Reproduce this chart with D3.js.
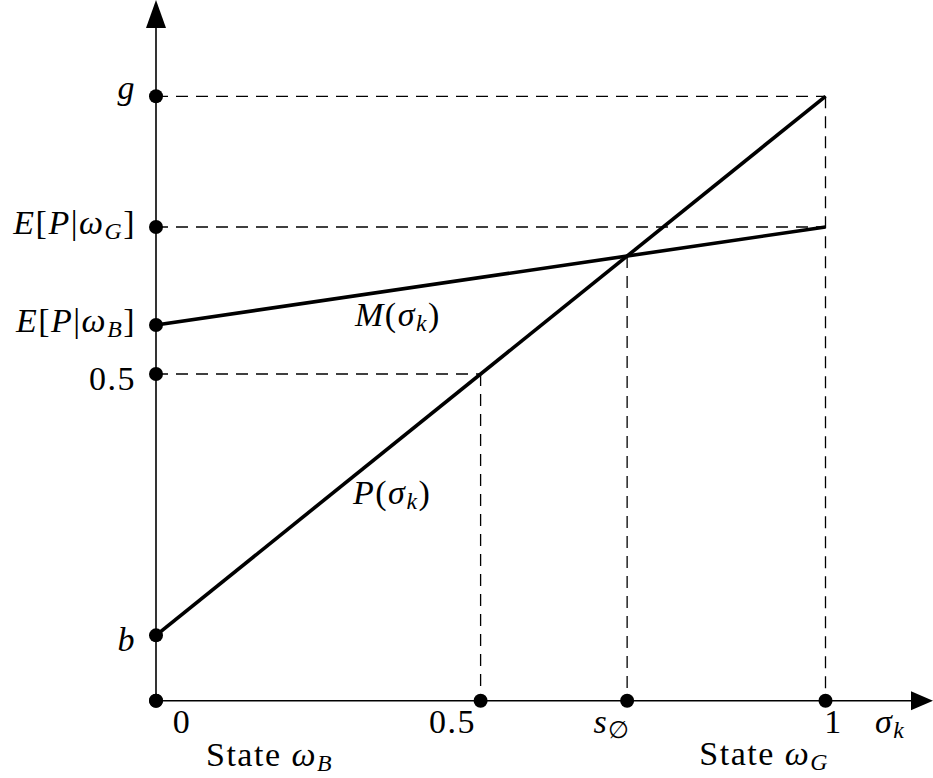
<!DOCTYPE html>
<html>
<head>
<meta charset="utf-8">
<script src="https://cdn.jsdelivr.net/npm/d3@7"></script>
<style>
  body { margin: 0; background: #fff; }
  svg { display: block; }
  text { font-family: "Liberation Serif", "Times New Roman", serif; fill: #000; letter-spacing: 1.5px; }
</style>
</head>
<body>
<svg id="chart" width="933" height="778"></svg>
<script>
// Values on the vertical axis
const bValue = 0.1;      // P at sigma = 0
const gValue = 0.925;    // P at sigma = 1
const eBad = 0.575;      // E[P|ωB], M at sigma = 0
const eGood = 0.725;     // E[P|ωG], M at sigma = 1
const halfValue = 0.5;

// Endpoints of the two lines over sigma in [0, 1]
const sigmaEnds = [0, 1];
const pValues = [bValue, gValue];
const mValues = [eBad, eGood];

// Derived points: where P reaches 0.5 and where P meets M
const mAt = s => mValues[0] + (mValues[1] - mValues[0]) * s;
const sigmaHalf = (halfValue - pValues[0]) / (pValues[1] - pValues[0]);
const sigmaCross = (mValues[0] - pValues[0]) /
  ((pValues[1] - pValues[0]) - (mValues[1] - mValues[0]));

// Tick labels, as pieces: [text, italic, "sub" for subscripts]
const yTickValues = [0, bValue, halfValue, eBad, eGood, gValue];
const yTickLabels = [
  null,
  [["b", true]],
  [["0.5", false]],
  [["E", true], ["[", false], ["P", true], ["|", false], ["ω", true], ["B", true, "sub"], ["]", false]],
  [["E", true], ["[", false], ["P", true], ["|", false], ["ω", true], ["G", true, "sub"], ["]", false]],
  [["g", true]]
];
const xTickValues = [0, sigmaHalf, sigmaCross, 1];
const xTickLabels = [
  [["0", false]],
  [["0.5", false]],
  [["s", true], ["∅", false, "sub"]],
  [["1", false]]
];

const FONT = 34;

const svg = d3.select("#chart");
svg.append("rect").attr("width", 933).attr("height", 778).attr("fill", "#fff");

const x = d3.scaleLinear().domain([0, 1]).range([156, 825.5]);
const y = d3.scaleLinear().domain([0, 1]).range([700.7, 47.3]);

const x0 = x(0), y0 = y(0);

// Writes a math-style label made of pieces; subscripts drop and shrink
function mathText(g, pieces, size) {
  const t = g.append("text").attr("font-size", size);
  const drop = size * 0.16;
  let shifted = false;
  pieces.forEach(([str, italic, kind]) => {
    const sp = t.append("tspan").text(str)
      .attr("font-style", italic ? "italic" : "normal");
    if (kind === "sub") {
      sp.attr("font-size", size * 0.7).attr("dy", drop);
      shifted = true;
    } else if (shifted) {
      sp.attr("dy", -drop);
      shifted = false;
    }
  });
  return t;
}

// Dashed guide lines
const dash = svg.append("g")
  .attr("stroke", "#000").attr("stroke-width", 1.3)
  .attr("stroke-dasharray", "12,8").attr("fill", "none");
const guides = [
  [[0, gValue], [1, gValue]],
  [[1, gValue], [1, 0]],
  [[0, eGood], [1, eGood]],
  [[0, halfValue], [sigmaHalf, halfValue]],
  [[sigmaHalf, halfValue], [sigmaHalf, 0]],
  [[sigmaCross, mAt(sigmaCross)], [sigmaCross, 0]]
];
guides.forEach(([a, b]) => {
  dash.append("line")
    .attr("x1", x(a[0])).attr("y1", y(a[1]))
    .attr("x2", x(b[0])).attr("y2", y(b[1]));
});

// Axes with arrow heads
const axes = svg.append("g").attr("stroke", "#000").attr("stroke-width", 1.6);
axes.append("line").attr("x1", x0).attr("y1", y0).attr("x2", x0).attr("y2", 20);
axes.append("line").attr("x1", x0).attr("y1", y0).attr("x2", 915).attr("y2", y0);
svg.append("path")
  .attr("d", `M${x0},0 L${x0 - 10},28 L${x0 + 10},28 Z`).attr("fill", "#000");
svg.append("path")
  .attr("d", `M933,${y0} L911,${y0 - 9.5} L911,${y0 + 9.5} Z`).attr("fill", "#000");

// The two lines P(σ) and M(σ)
const line = d3.line().x(d => x(d[0])).y(d => y(d[1]));
svg.append("path")
  .datum(sigmaEnds.map((s, i) => [s, pValues[i]]))
  .attr("d", line).attr("fill", "none")
  .attr("stroke", "#000").attr("stroke-width", 3.6);
svg.append("path")
  .datum(sigmaEnds.map((s, i) => [s, mValues[i]]))
  .attr("d", line).attr("fill", "none")
  .attr("stroke", "#000").attr("stroke-width", 3.6);

// Dots on the axes
svg.append("g").selectAll("circle").data(yTickValues).join("circle")
  .attr("cx", x0).attr("cy", d => y(d)).attr("r", 7).attr("fill", "#000");
svg.append("g").selectAll("circle").data(xTickValues).join("circle")
  .attr("cx", d => x(d)).attr("cy", y0).attr("r", 7).attr("fill", "#000");

// Vertical-axis labels (right aligned left of the axis)
const yLabelBaseline = [0, 16, 16, 7, 7, 3];
const yLabels = svg.append("g");
yTickValues.forEach((v, i) => {
  if (!yTickLabels[i]) return;
  mathText(yLabels, yTickLabels[i], FONT)
    .attr("x", 136).attr("y", y(v) + yLabelBaseline[i])
    .attr("text-anchor", "end");
});

// Horizontal-axis labels
const xLabelOffset = [26, -28, -15, 8];
const xLabels = svg.append("g");
xTickValues.forEach((v, i) => {
  mathText(xLabels, xTickLabels[i], FONT)
    .attr("x", x(v) + xLabelOffset[i]).attr("y", 733)
    .attr("text-anchor", "middle");
});

// Axis name and state captions
mathText(svg, [["σ", true], ["k", true, "sub"]], FONT)
  .attr("x", 875).attr("y", 733);
mathText(svg, [["State ", false], ["ω", true], ["B", true, "sub"]], FONT)
  .attr("x", 206).attr("y", 766);
mathText(svg, [["State ", false], ["ω", true], ["G", true, "sub"]], FONT)
  .attr("x", 829).attr("y", 765).attr("text-anchor", "end");

// Line names
mathText(svg, [["M", true], ["(", false], ["σ", true], ["k", true, "sub"], [")", false]], FONT)
  .attr("x", 355).attr("y", 326);
mathText(svg, [["P", true], ["(", false], ["σ", true], ["k", true, "sub"], [")", false]], FONT)
  .attr("x", 353).attr("y", 504);
</script>
</body>
</html>
